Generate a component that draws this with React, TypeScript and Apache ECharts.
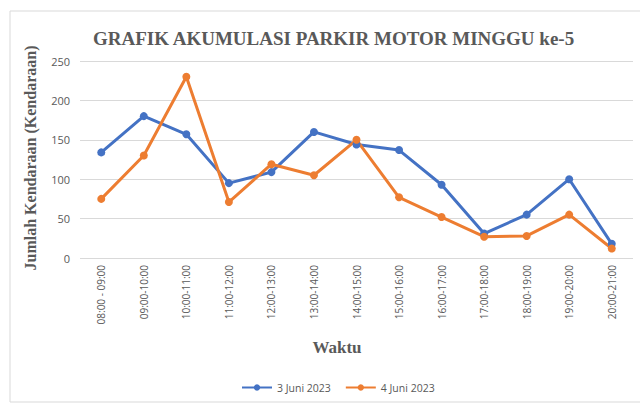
import React, { useEffect, useRef } from "react";
import * as echarts from "echarts";

const categories = [
  "08:00 - 09:00",
  "09:00-10:00",
  "10:00-11:00",
  "11:00-12:00",
  "12:00-13:00",
  "13:00-14:00",
  "14:00-15:00",
  "15:00-16:00",
  "16:00-17:00",
  "17:00-18:00",
  "18:00-19:00",
  "19:00-20:00",
  "20:00-21:00",
];
const juni3 = [134, 180, 157, 95, 109, 160, 144, 137, 93, 31, 55, 100, 18];
const juni4 = [75, 130, 230, 71, 119, 105, 150, 77, 52, 27, 28, 55, 12];
const yTicks = { min: 0, max: 250, interval: 50 };

const GRAY = "#595959";
const SERIF = "'Liberation Serif', 'Times New Roman', serif";
const SANS = "'Open Sans', 'Liberation Sans', sans-serif";

export default function App() {
  const ref = useRef<HTMLDivElement>(null);
  useEffect(() => {
    if (!ref.current) return;
    const chart = echarts.init(ref.current, null, { renderer: "svg" });
    chart.setOption({
      animation: false,
      backgroundColor: "#ffffff",
      title: {
        text: "GRAFIK AKUMULASI PARKIR MOTOR MINGGU ke-5",
        left: 88,
        top: 24,
        textStyle: {
          fontFamily: SERIF,
          fontWeight: "bold",
          fontSize: 19,
          color: GRAY,
        },
      },
      legend: {
        left: 236,
        top: 377,
        itemWidth: 30,
        itemHeight: 8,
        itemGap: 14,
        textStyle: { fontFamily: SANS, fontSize: 10.5, color: GRAY },
        data: ["3 Juni 2023", "4 Juni 2023"],
      },
      grid: { left: 80, right: 7, top: 61, bottom: 147, containLabel: false },
      xAxis: {
        type: "category",
        data: categories,
        boundaryGap: true,
        axisLine: { show: false },
        axisTick: { show: false },
        axisLabel: {
          rotate: 90,
          interval: 0,
          margin: 7,
          fontFamily: SANS,
          fontSize: 10,
          color: GRAY,
        },
      },
      yAxis: {
        type: "value",
        min: yTicks.min,
        max: yTicks.max,
        interval: yTicks.interval,
        axisLine: { show: false },
        axisTick: { show: false },
        axisLabel: { margin: 10, fontFamily: SANS, fontSize: 11, color: GRAY },
        splitLine: { lineStyle: { color: "#d9d9d9", width: 1 } },
      },
      graphic: [
        {
          type: "rect",
          shape: { x: 10, y: 11, width: 640, height: 391 },
          style: { fill: "none", stroke: "#d9d9d9", lineWidth: 1 },
          silent: true,
        },
        {
          type: "text",
          x: 30,
          y: 158,
          rotation: Math.PI / 2,
          style: {
            text: "Jumlah Kendaraan (Kendaraan)",
            fontFamily: SERIF,
            fontWeight: "bold",
            fontSize: 16,
            fill: GRAY,
            align: "center",
            verticalAlign: "middle",
          },
        },
        {
          type: "text",
          x: 337,
          y: 347,
          style: {
            text: "Waktu",
            fontFamily: SERIF,
            fontWeight: "bold",
            fontSize: 17,
            fill: GRAY,
            align: "center",
            verticalAlign: "middle",
          },
        },
      ],
      series: [
        {
          name: "3 Juni 2023",
          type: "line",
          data: juni3,
          symbol: "circle",
          symbolSize: 8,
          itemStyle: { color: "#4472C4" },
          lineStyle: { color: "#4472C4", width: 3 },
        },
        {
          name: "4 Juni 2023",
          type: "line",
          data: juni4,
          symbol: "circle",
          symbolSize: 8,
          itemStyle: { color: "#ED7D31" },
          lineStyle: { color: "#ED7D31", width: 3 },
        },
      ],
    });
    return () => chart.dispose();
  }, []);
  return (
    <div
      ref={ref}
      style={{ position: "fixed", left: 0, top: 0, width: 640, height: 405 }}
    />
  );
}
